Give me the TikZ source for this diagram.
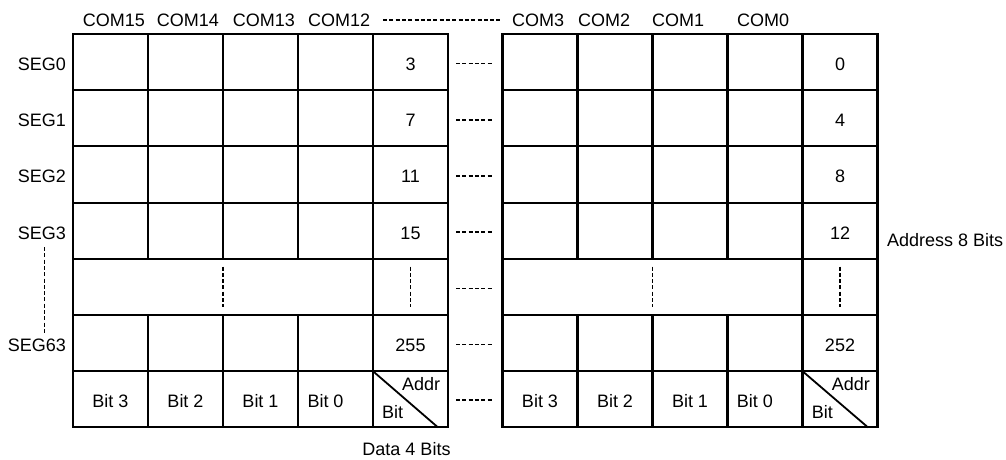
\documentclass[tikz,border=0pt]{standalone}
\usepackage{fontspec}
\setmainfont{Liberation Sans}
\begin{document}
\begin{tikzpicture}[x=1pt,y=-1pt,
  gridline/.style={line width=2.1pt, line cap=rect},
  lbl/.style={inner sep=0pt, font=\fontsize{18}{21}\selectfont},
  hdash/.style={line width=1.6pt, dash pattern=on 4pt off 2.3pt},
  vdash/.style={line width=1.6pt, dash pattern=on 4pt off 2.3pt}]
\useasboundingbox (0,0) rectangle (1006,459);
% ---- grids ----
\foreach \xa/\xb in {73/448, 502.5/877.5}{
  \foreach \y in {34,90.2,146.4,202.6,258.8,315,371.2,427.4}
    \draw[gridline] (\xa,\y) -- (\xb,\y);
  \draw[gridline] (\xa,34) -- (\xa,427.4);
  \draw[gridline] (\xb,34) -- (\xb,427.4);
  \draw[gridline] (\xb-75,34) -- (\xb-75,427.4);
  \foreach \k in {1,2,3}{
    \draw[gridline] (\xa+75*\k,34) -- (\xa+75*\k,258.8);
    \draw[gridline] (\xa+75*\k,315) -- (\xa+75*\k,427.4);
  }
}
% diagonals
\draw[line width=1.8pt] (373,371.2) -- (438,427.4);
\draw[line width=1.8pt] (802.5,371.2) -- (868,427.4);
% ---- column labels ----
\node[lbl,anchor=base west] (com15) at (82.7,26) {COM15};
\node[lbl,anchor=base west] (com14) at (156.7,26) {COM14};
\node[lbl,anchor=base west] (com13) at (232.7,26) {COM13};
\node[lbl,anchor=base west] (com12) at (308,26) {COM12};
\node[lbl,anchor=base west] (com3) at (512,26) {COM3};
\node[lbl,anchor=base west] (com2) at (578,26) {COM2};
\node[lbl,anchor=base west] (com1) at (652,26) {COM1};
\node[lbl,anchor=base west] (com0) at (737,26) {COM0};
\draw[hdash] (383,20) -- (500,20);
% ---- row labels ----
\node[lbl,anchor=base east] (seg0) at (66,70.5) {SEG0};
\node[lbl,anchor=base east] (seg1) at (66,126.7) {SEG1};
\node[lbl,anchor=base east] (seg2) at (66,182.9) {SEG2};
\node[lbl,anchor=base east] (seg3) at (66,239.1) {SEG3};
\node[lbl,anchor=base east] (seg63) at (66,351.5) {SEG63};
\draw[vdash] (44.3,247) -- (44.3,333);
% ---- addresses ----
\foreach \name/\txt/\yb in {a3/3/70.5, a7/7/126.7, a11/11/182.9, a15/15/239.1, a255/255/351.5}
  \node[lbl,anchor=base] (\name) at (410.5,\yb) {\txt};
\foreach \name/\txt/\yb in {a0/0/70.5, a4/4/126.7, a8/8/182.9, a12/12/239.1, a252/252/351.5}
  \node[lbl,anchor=base] (\name) at (840,\yb) {\txt};
% dotted row
\draw[vdash] (223,266.5) -- (223,307);
\draw[vdash] (410.5,266.5) -- (410.5,307);
\draw[vdash] (652.5,266.5) -- (652.5,307);
\draw[vdash] (840,266.5) -- (840,307);
% dashes between grids
\foreach \yc in {63.5,119.7,175.9,232.1,288.3,344.5,400.2}
  \draw[hdash] (456,\yc) -- (493.5,\yc);
% ---- bit row ----
\node[lbl,anchor=base] (lb3) at (110.5,407.5) {Bit 3};
\node[lbl,anchor=base] (lb2) at (185.5,407.5) {Bit 2};
\node[lbl,anchor=base] (lb1) at (260.5,407.5) {Bit 1};
\node[lbl,anchor=base west] (lb0) at (307.3,407.5) {Bit 0};
\node[lbl,anchor=base west] (laddr) at (402,390) {Addr};
\node[lbl,anchor=base west] (lbit) at (382,418.3) {Bit};
\node[lbl,anchor=base] (rb3) at (540,407.5) {Bit 3};
\node[lbl,anchor=base] (rb2) at (615,407.5) {Bit 2};
\node[lbl,anchor=base] (rb1) at (690,407.5) {Bit 1};
\node[lbl,anchor=base west] (rb0) at (736.7,407.5) {Bit 0};
\node[lbl,anchor=base west] (raddr) at (831.7,390) {Addr};
\node[lbl,anchor=base west] (rbit) at (811.7,418.3) {Bit};
% ---- side labels ----
\node[lbl,anchor=base] (data) at (406.5,455.3) {Data 4 Bits};
\node[lbl,anchor=base west] (addr8) at (887,246) {Address 8 Bits};
\end{tikzpicture}
\end{document}
